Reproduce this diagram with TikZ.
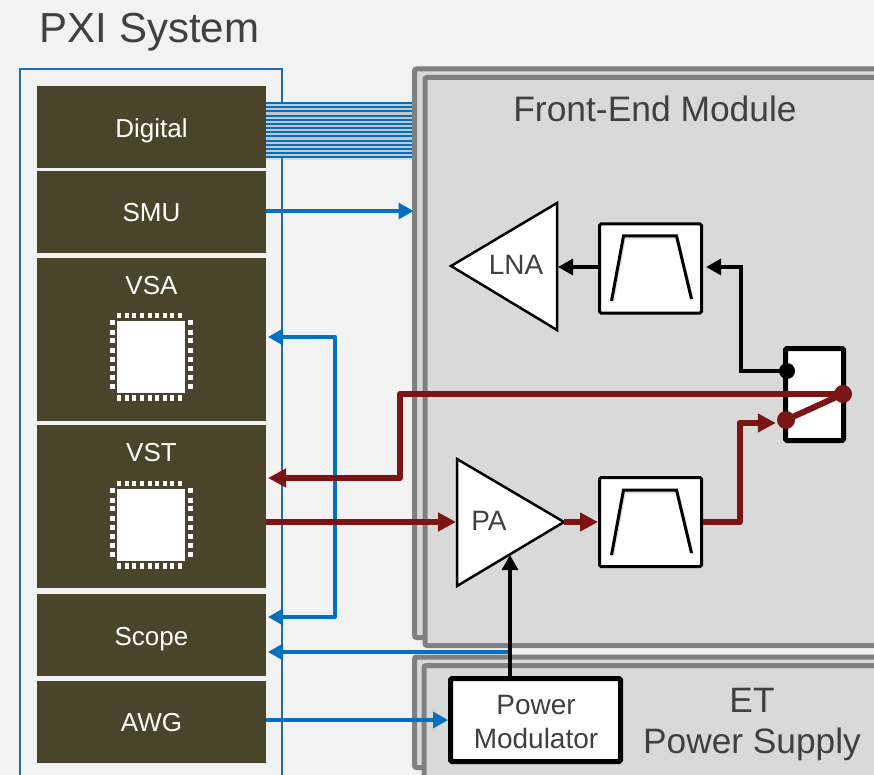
\documentclass[tikz,border=0pt]{standalone}
\usepackage{fontspec}
\setmainfont{Liberation Sans}
\usetikzlibrary{arrows.meta,calc}
\definecolor{bgc}{HTML}{F2F2F2}
\definecolor{panel}{HTML}{D9D9D9}
\definecolor{frame}{HTML}{808080}
\definecolor{olive}{HTML}{4A452A}
\definecolor{sysblue}{HTML}{1F6CA8}
\definecolor{sigblue}{HTML}{0070C0}
\definecolor{sigred}{HTML}{7B1414}
\definecolor{txt}{HTML}{404040}
\newcommand{\fpx}[1]{\fontsize{#1}{#1}\selectfont}
\newcommand{\chipat}[1]{%
  \begin{scope}[shift={(#1)}]
    \foreach \px in {119,127,134,142,149.5,157,165,172,180}{
      \fill[white] (\px-2,-44) rectangle (\px+2,-39);
      \fill[white] (\px-2,38) rectangle (\px+2,44);
    }
    \foreach \py in {322,332,340,350,359,368,377,386}{
      \fill[white] (110,\py-357-2.5) rectangle (115,\py-357+2.5);
      \fill[white] (188,\py-357-2.5) rectangle (193,\py-357+2.5);
    }
  \end{scope}%
}
\newcommand{\trapez}[1]{%
  \begin{scope}[shift={(#1)}]
    \draw[line width=3pt,black!40,opacity=.3,line join=miter] (-38.5,35.5) -- (-26.5,-29) -- (26.5,-29) -- (41.5,33.5);
    \draw[line width=3pt,black,line join=miter] (-39.5,34) -- (-27.5,-31) -- (25.5,-31) -- (40.5,32);
  \end{scope}%
}
\tikzset{
  every node/.style={inner sep=0pt},
  frameline/.style={draw=frame,line width=5pt,fill=panel,rounded corners=2pt,rectangle},
  block/.style={rectangle,fill=olive,text=white,minimum width=229pt,outer sep=0pt},
  blocktxt/.style={text=white,font=\fpx{26}},
  whitebox/.style={rectangle,draw=black,fill=white,rounded corners=1.5pt},
  label/.style={text=txt,align=center},
  bluearrow/.style={draw=sigblue,line width=3.3pt,-{Triangle[length=15pt,width=16pt]}},
  bluetwin/.style={draw=sigblue,line width=3.3pt,{Triangle[length=15pt,width=16pt]}-{Triangle[length=15pt,width=16pt]},line join=round},
  redarrow/.style={draw=sigred,line width=6pt,-{Triangle[length=18pt,width=18pt]},line join=round},
  blackarrow/.style={draw=black,line width=3.2pt,-{Triangle[length=15pt,width=16pt]}},
  busline/.style={draw=sigblue,line width=2pt},
  dotred/.style={circle,fill=sigred,minimum size=18pt},
  dotblack/.style={circle,fill=black,minimum size=16pt},
}
\begin{document}
\begin{tikzpicture}[x=1pt,y=-1pt]
\useasboundingbox (0,0) rectangle (874,775);
\clip (0,0) rectangle (874,775);
\fill[bgc] (0,0) rectangle (874,775);

% grey frames
\node[frameline,minimum width=685.5pt,minimum height=568.5pt] (femouter) at (757.25,353.25) {};
\node[frameline,minimum width=675pt,minimum height=568pt] (feminner) at (762.5,361.5) {};
\node[frameline,minimum width=685.5pt,minimum height=110.5pt] (etouter) at (757.25,712.25) {};
\node[frameline,minimum width=676pt,minimum height=134pt] (etinner) at (762,732.5) {};

% PXI chassis
\node[rectangle,draw=sysblue,line width=1.5pt,minimum width=262pt,minimum height=760pt] (pxi) at (151,449) {};
\node[label,anchor=west,font=\fpx{42}] (pxititle) at (39.5,32) {PXI System};

% instrument blocks
\node[block,minimum height=82pt] (digital) at (151.5,127) {};
\node[block,minimum height=82pt] (smu) at (151.5,212) {};
\node[block,minimum height=163pt] (vsa) at (151.5,339.5) {};
\node[block,minimum height=163pt] (vst) at (151.5,506.5) {};
\node[block,minimum height=82pt] (scope) at (151.5,635) {};
\node[block,minimum height=82pt] (awg) at (151.5,722) {};
\node[blocktxt] (digitaltxt) at (151.5,131) {Digital};
\node[blocktxt] (smutxt) at (151.5,213) {SMU};
\node[blocktxt] (vsatxt) at (151.5,286) {VSA};
\node[blocktxt] (vsttxt) at (151.5,453) {VST};
\node[blocktxt] (scopetxt) at (151.5,639) {Scope};
\node[blocktxt] (awgtxt) at (151.5,723) {AWG};

% chips
\node[rectangle,fill=white,minimum width=68pt,minimum height=72pt] (chipa) at (151,357) {};
\node[rectangle,fill=white,minimum width=68pt,minimum height=72pt] (chipb) at (151,525) {};
\chipat{0,357}
\chipat{0,525}

% digital bus
\fill[black!50,opacity=.2] (digital.east |- 0,106) rectangle (femouter.west |- 0,160);
\fill[black!22] (digital.east |- 0,103) rectangle (femouter.west |- 0,157);
\foreach \yy in {103,107,111,116,120,124,128,132,136,141,145,149,153,157}{
  \draw[busline] (digital.east |- 0,\yy) -- (femouter.west |- 0,\yy);
}

% labels on the panels
\node[label,font=\fpx{35.4}] (femlabel) at (655,109) {Front-End Module};
\node[label,font=\fpx{35.3}] (etlabel) at (752,700) {ET};
\node[label,font=\fpx{35.3}] (etlabelb) at (752,744) {Power Supply};

% amplifiers
\draw[black,line width=2.5pt,fill=white,line join=miter] (451,266) -- (557,203) -- (557,330) -- cycle;
\coordinate (lnain) at (558,267);
\node[label,font=\fpx{28}] (lna) at (516,265) {LNA};
\draw[black,line width=2.5pt,fill=white,line join=miter] (457,459) -- (564,522) -- (457,586) -- cycle;
\coordinate (pain) at (456,522);
\coordinate (paout) at (564,522);
\coordinate (pabot) at (510,555);
\node[label,font=\fpx{28}] (pa) at (489,521) {PA};

% filters
\node[whitebox,line width=3pt,minimum width=102pt,minimum height=89pt] (filtrx) at (650.5,268.5) {};
\node[whitebox,line width=3pt,minimum width=102pt,minimum height=89pt] (filttx) at (650.5,522) {};
\trapez{651,267}
\trapez{651,521}

% switch
\node[whitebox,line width=5pt,minimum width=58pt,minimum height=92pt] (sw) at (814.5,394.5) {};

% power modulator
\node[whitebox,line width=5pt,minimum width=170pt,minimum height=83pt] (pm) at (535.5,720) {};
\node[label,font=\fpx{28}] (pmtxt) at (536,705) {Power};
\node[label,font=\fpx{28}] (pmtxtb) at (536,738) {Modulator};

% blue connectors
\draw[bluearrow,shorten >=-1.5pt] (smu.east |- 0,211) -- (femouter.west |- 0,211);
\coordinate (bend) at (335,337);
\coordinate (bendb) at (335,617);
\draw[bluetwin,shorten >=2pt,shorten <=2pt] (vsa.east |- bend) -- (bend) -- (bendb) -- (scope.east |- bendb);
\coordinate (etsense) at (509,652);
\draw[bluearrow,shorten >=2pt] (etsense) -- (scope.east |- etsense);
\draw[bluearrow] (awg.east |- 0,720) -- (pm.west |- 0,720);

% black connectors
\draw[blackarrow] (pm.north -| pabot) -- (pabot);
\draw[blackarrow] (filtrx.west |- lnain) -- (lnain);
\node[dotblack] (swrx) at (787,371) {};
\coordinate (rxbend) at (741,267);
\draw[blackarrow,line join=miter,shorten >=3pt] (swrx.center) -- (rxbend |- swrx) -- (rxbend) -- (filtrx.east |- rxbend);

% red connectors
\node[dotred] (swtx) at (786,420) {};
\node[dotred] (swant) at (843,394) {};
\draw[sigred,line width=6pt] (swtx.center) -- (swant.center);
\coordinate (redup) at (400,394);
\coordinate (reddown) at (400,478);
\draw[redarrow,shorten >=2pt] (swant.center) -- (redup) -- (reddown) -- (vst.east |- reddown);
\draw[redarrow] (vst.east |- pain) -- (pain);
\draw[redarrow] (paout) -- (filttx.west |- paout);
\coordinate (txbend) at (739.5,423);
\draw[redarrow,shorten >=1pt] (filttx.east |- 0,522) -- (txbend |- 0,522) -- (txbend) -- (swtx.west |- txbend);
\end{tikzpicture}
\end{document}
